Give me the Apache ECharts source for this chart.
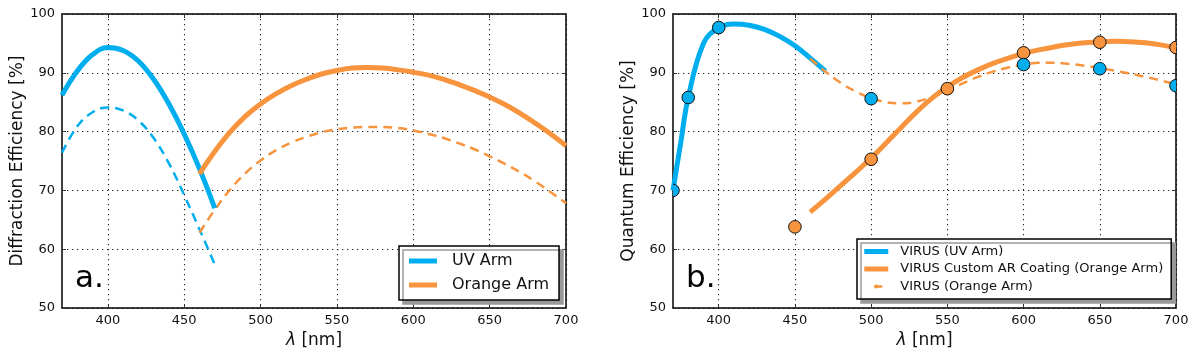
<!DOCTYPE html>
<html>
<head>
<meta charset="utf-8">
<script src="https://cdn.jsdelivr.net/npm/echarts@6/dist/echarts.min.js"></script>
<style>
html,body{margin:0;padding:0;background:#fff;}
#chart{width:1200px;height:355px;}
</style>
</head>
<body>
<div id="chart"></div>
<script>
// ---------- data ----------
const xTicks = [400, 450, 500, 550, 600, 650, 700];
const yTicks = [50, 60, 70, 80, 90, 100];

// Panel a: diffraction efficiency
const uvWlA = [370, 380, 390, 400, 410, 420, 430, 440, 450, 460, 470];
const uvSolidA = [86.2, 90.3, 93.1, 94.3, 93.8, 92.0, 88.9, 84.7, 79.6, 73.7, 67.0];
const uvDashA = [76.4, 80.9, 83.3, 84.1, 83.6, 81.9, 78.9, 74.6, 69.2, 63.4, 57.4];
const orWlA = [460, 470, 480, 490, 500, 510, 520, 530, 540, 550, 560, 570, 580, 590, 600, 610, 620, 630, 640, 650, 660, 670, 680, 690, 700];
const orSolidA = [72.8, 76.6, 79.9, 82.6, 84.7, 86.4, 87.8, 88.9, 89.8, 90.4, 90.8, 90.9, 90.8, 90.5, 90.1, 89.6, 88.9, 88.0, 87.0, 85.9, 84.6, 83.1, 81.4, 79.6, 77.6];
const orDashA = [62.8, 66.7, 70.1, 72.9, 75.1, 76.8, 78.1, 79.1, 79.9, 80.4, 80.7, 80.8, 80.8, 80.6, 80.2, 79.6, 78.9, 78.0, 77.0, 75.8, 74.5, 73.1, 71.5, 69.7, 67.8];

// Panel b: quantum efficiency
const uvWlB = [370, 375, 380, 390, 400, 410, 420, 430, 440, 450, 460, 470];
const uvSolidB = [70.0, 78.0, 85.8, 95.0, 97.7, 98.3, 98.1, 97.4, 96.2, 94.6, 92.5, 90.3];
const orWlB = [460, 470, 480, 490, 500, 510, 520, 530, 540, 550, 560, 570, 580, 590, 600, 610, 620, 630, 640, 650, 660, 670, 680, 690, 700];
const orSolidB = [66.3, 68.5, 70.8, 73.1, 75.5, 78.1, 80.8, 83.4, 85.7, 87.6, 89.2, 90.5, 91.6, 92.5, 93.3, 93.9, 94.4, 94.8, 95.1, 95.3, 95.35, 95.3, 95.1, 94.75, 94.25];
const orDashB = [92.4, 90.2, 88.3, 86.8, 85.7, 85.0, 84.8, 85.1, 85.9, 87.0, 88.2, 89.3, 90.2, 90.9, 91.4, 91.7, 91.7, 91.5, 91.2, 90.8, 90.35, 89.85, 89.3, 88.7, 88.05];
const uvMarkWl = [370, 380, 400, 500, 600, 650, 700];
const uvMark = [70.0, 85.8, 97.7, 85.6, 91.4, 90.7, 87.8];
const orMarkWl = [450, 500, 550, 600, 650, 700];
const orMark = [63.8, 75.3, 87.3, 93.4, 95.2, 94.3];

const legendA = ['UV Arm', 'Orange Arm'];
const legendB = ['VIRUS (UV Arm)', 'VIRUS Custom AR Coating (Orange Arm)', 'VIRUS (Orange Arm)'];

// ---------- styles ----------
const BLUE = '#00aeef';
const ORANGE = '#f7943d';
const FONT = 'DejaVu Sans';

const pairs = (xs, ys) => xs.map((x, i) => [x, ys[i]]);

function xAxisPair(gi) {
  const base = {
    type: 'value', gridIndex: gi, min: 370, max: 700,
    axisLine: { show: true, onZero: false, lineStyle: { color: '#000', width: 1.5 } },
    axisTick: { show: true, inside: true, length: 4, customValues: xTicks, lineStyle: { color: '#333', width: 1 } },
  };
  return [
    Object.assign({}, base, {
      position: 'bottom',
      axisLabel: { show: true, customValues: xTicks, color: '#111', fontFamily: FONT, fontSize: 13, margin: 6 },
      splitLine: { show: true, lineStyle: { color: '#222', width: 1.1, type: [1.3, 3.7] } },
      name: '{l|λ} [nm]', nameLocation: 'middle', nameGap: 24,
      nameTextStyle: { color: '#111', fontFamily: FONT, fontSize: 17, rich: { l: { fontStyle: 'italic', fontFamily: FONT, fontSize: 17, color: '#111' } } },
    }),
    Object.assign({}, base, {
      position: 'top', axisLabel: { show: false }, splitLine: { show: false },
    }),
  ];
}

function yAxisPair(gi, name) {
  const base = {
    type: 'value', gridIndex: gi, min: yTicks[0], max: yTicks[yTicks.length - 1], interval: 10,
    axisLine: { show: true, onZero: false, lineStyle: { color: '#000', width: 1.5 } },
    axisTick: { show: true, inside: true, length: 4, lineStyle: { color: '#333', width: 1 } },
  };
  return [
    Object.assign({}, base, {
      position: 'left',
      axisLabel: { show: true, color: '#111', fontFamily: FONT, fontSize: 13, margin: 7 },
      splitLine: { show: true, lineStyle: { color: '#222', width: 1.1, type: [1.3, 3.7] } },
      name: name, nameLocation: 'middle', nameGap: 36, nameRotate: 90,
      nameTextStyle: { color: '#111', fontFamily: FONT, fontSize: 17 },
    }),
    Object.assign({}, base, {
      position: 'right', axisLabel: { show: false }, splitLine: { show: false },
    }),
  ];
}

function lineSeries(name, xi, yi, xs, ys, color, width, dashed, z) {
  return {
    name: name, type: 'line', xAxisIndex: xi, yAxisIndex: yi,
    data: pairs(xs, ys), smooth: 0.4, symbol: 'none', showSymbol: false,
    lineStyle: { color: color, width: width, type: dashed ? [9, 6] : 'solid', cap: 'butt' },
    itemStyle: { color: color }, z: z, silent: true, animation: false,
  };
}

function markerSeries(name, xi, yi, xs, ys, color, z) {
  return {
    name: name, type: 'custom', xAxisIndex: xi, yAxisIndex: yi, clip: true,
    data: pairs(xs, ys), z: z, silent: true, animation: false,
    renderItem: function (params, api) {
      const p = api.coord([api.value(0), api.value(1)]);
      return {
        type: 'circle',
        shape: { cx: p[0], cy: p[1], r: 6.3 },
        style: { fill: color, stroke: '#111', lineWidth: 1 },
      };
    },
  };
}

const legendBase = {
  orient: 'vertical', backgroundColor: '#fff', borderColor: '#000', borderWidth: 1.5, borderRadius: 0,
  shadowColor: '#999', shadowBlur: 0, shadowOffsetX: 4, shadowOffsetY: 4,
  selectedMode: false,
};

const option = {
  animation: false,
  backgroundColor: '#fff',
  grid: [
    { left: 62, right: 634, top: 14, height: 294, containLabel: false },
    { left: 673, right: 24, top: 14, height: 294, containLabel: false },
  ],
  xAxis: [].concat(xAxisPair(0), xAxisPair(1)),
  yAxis: [].concat(yAxisPair(0, 'Diffraction Efficiency [%]'), yAxisPair(1, 'Quantum Efficiency [%]')),
  legend: [
    Object.assign({}, legendBase, {
      left: 399, top: 246, padding: [7, 10, 7, 10], itemGap: 8,
      itemWidth: 28, itemHeight: 5,
      textStyle: { fontFamily: FONT, fontSize: 16, color: '#111', padding: [0, 0, 0, 10] },
      data: [
        { name: legendA[0], icon: 'rect' },
        { name: legendA[1], icon: 'rect' },
      ],
    }),
    Object.assign({}, legendBase, {
      left: 857, top: 239, padding: [6, 8, 6, 6], itemGap: 4.5,
      itemWidth: 24, itemHeight: 5,
      textStyle: { fontFamily: FONT, fontSize: 13, color: '#111', padding: [0, 0, 0, 7] },
      data: [
        { name: legendB[0], icon: 'rect' },
        { name: legendB[1], icon: 'rect' },
        { name: legendB[2], lineStyle: { width: 2.5, type: [8, 10], dashOffset: 8 } },
      ],
    }),
  ],
  series: [
    // panel a
    lineSeries('UV Arm dashed', 0, 0, uvWlA, uvDashA, BLUE, 2.5, true, 2),
    lineSeries('Orange Arm dashed', 0, 0, orWlA, orDashA, ORANGE, 2.5, true, 2),
    lineSeries(legendA[0], 0, 0, uvWlA, uvSolidA, BLUE, 5, false, 3),
    lineSeries(legendA[1], 0, 0, orWlA, orSolidA, ORANGE, 5, false, 4),
    // panel b
    lineSeries(legendB[0], 2, 2, uvWlB, uvSolidB, BLUE, 5, false, 2),
    lineSeries(legendB[1], 2, 2, orWlB, orSolidB, ORANGE, 5, false, 2),
    lineSeries(legendB[2], 2, 2, orWlB, orDashB, ORANGE, 2.5, true, 3),
    markerSeries('orange markers', 2, 2, orMarkWl, orMark, ORANGE, 5),
    markerSeries('blue markers', 2, 2, uvMarkWl, uvMark, BLUE, 6),
  ],
  graphic: [
    { type: 'text', left: 75, top: 263, z: 10, style: { text: 'a.', fontFamily: FONT, fontSize: 31, fill: '#000' } },
    { type: 'text', left: 686, top: 263, z: 10, style: { text: 'b.', fontFamily: FONT, fontSize: 31, fill: '#000' } },
  ],
};

const chart = echarts.init(document.getElementById('chart'), null, { renderer: 'canvas' });
chart.setOption(option);
</script>
</body>
</html>
